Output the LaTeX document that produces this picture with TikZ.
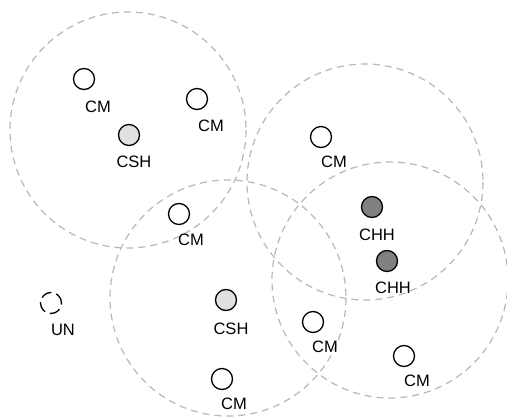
\documentclass[tikz,border=0pt]{standalone}
\usepackage{fontspec}
\setmainfont{Liberation Sans}
\begin{document}
\begin{tikzpicture}[x=1pt,y=-1pt,
  cellrange/.style={draw=black!28,dash pattern=on 7pt off 5pt,line width=1.2pt},
  nodecm/.style={circle,draw=black,line width=1.3pt,minimum size=21pt,inner sep=0pt},
  nodecsh/.style={nodecm,fill=black!12},
  nodechh/.style={nodecm,fill=black!50},
  nodeun/.style={nodecm,dash pattern=on 11pt off 5pt},
  lbl/.style={font=\fontsize{16.5}{18}\selectfont,inner sep=0pt}]
\useasboundingbox (0,0) rectangle (507,416);
\fill[white] (0,0) rectangle (507,416);
% ranges
\draw[cellrange] (128,130) circle (118);
\draw[cellrange] (228,298) circle (118);
\draw[cellrange] (365,182) circle (118);
\draw[cellrange] (390,280) circle (118);
% nodes
\node[nodecm] (m1) at (84,79) {};  \node[lbl] (l1) at (98,107) {CM};
\node[nodecm] (m2) at (197,99) {}; \node[lbl] (l2) at (211,126) {CM};
\node[nodecsh] (s1) at (129,135) {}; \node[lbl] (ls1) at (134,162) {CSH};
\node[nodecm] (m3) at (179,214) {}; \node[lbl] (l3) at (191,240) {CM};
\node[nodecm] (m4) at (321,137) {}; \node[lbl] (l4) at (334,162) {CM};
\node[nodechh] (h1) at (372,207) {}; \node[lbl] (lh1) at (377,235) {CHH};
\node[nodechh] (h2) at (387,261) {}; \node[lbl] (lh2) at (393,288) {CHH};
\node[nodecm] (m5) at (313,322) {}; \node[lbl] (l5) at (325,347) {CM};
\node[nodecm] (m6) at (404,356) {}; \node[lbl] (l6) at (417,381) {CM};
\node[nodeun] (u) at (51,303) {}; \node[lbl] (lu) at (63,330) {UN};
\node[nodecsh] (s2) at (226,300) {}; \node[lbl] (ls2) at (231,329) {CSH};
\node[nodecm] (m7) at (222,379) {}; \node[lbl] (l7) at (234,404) {CM};
\end{tikzpicture}
\end{document}
